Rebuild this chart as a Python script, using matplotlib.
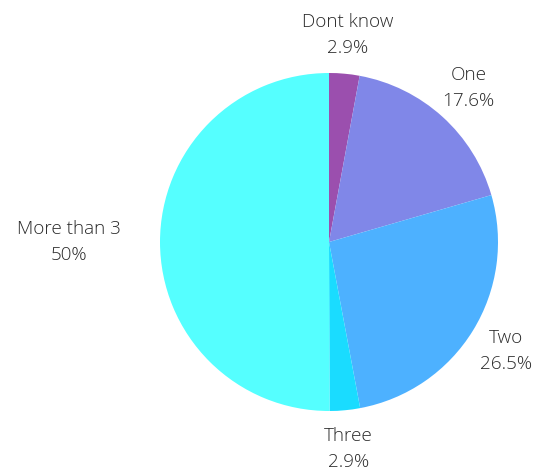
import matplotlib
matplotlib.use("Agg")
import matplotlib.pyplot as plt

categories = ["Dont know", "One", "Two", "Three", "More than 3"]
values = [2.9, 17.6, 26.5, 2.9, 50.0]
pct_labels = ["2.9%", "17.6%", "26.5%", "2.9%", "50%"]
colors = ["#9b4fae", "#8087e8", "#4db1ff", "#1adcff", "#55ffff"]

W, H = 545, 472
fig = plt.figure(figsize=(W / 100, H / 100), dpi=100)
cx, cy, r = 329, 242, 169
ax = fig.add_axes([(cx - r) / W, (H - cy - r) / H, 2 * r / W, 2 * r / H])

labels = [f"{c}\n{p}" for c, p in zip(categories, pct_labels)]
wedges, texts = ax.pie(values, colors=colors, startangle=90, counterclock=False,
                       labels=labels, labeldistance=1.23,
                       wedgeprops=dict(linewidth=0),
                       textprops=dict(family=["Open Sans", "DejaVu Sans"], fontsize=13.6,
                                      weight=300, color="#2a2a2a", va="center",
                                      linespacing=1.55))
for t in texts:
    x, y = t.get_position()
    if x < -0.5:
        t.set_ha("right")
    else:
        t.set_ha("center")
    t.set_multialignment("center")
ax.set_xlim(-1, 1)
ax.set_ylim(-1, 1)
ax.set_aspect("equal")
ax.axis("off")
fig.savefig("out.png", dpi=100)
